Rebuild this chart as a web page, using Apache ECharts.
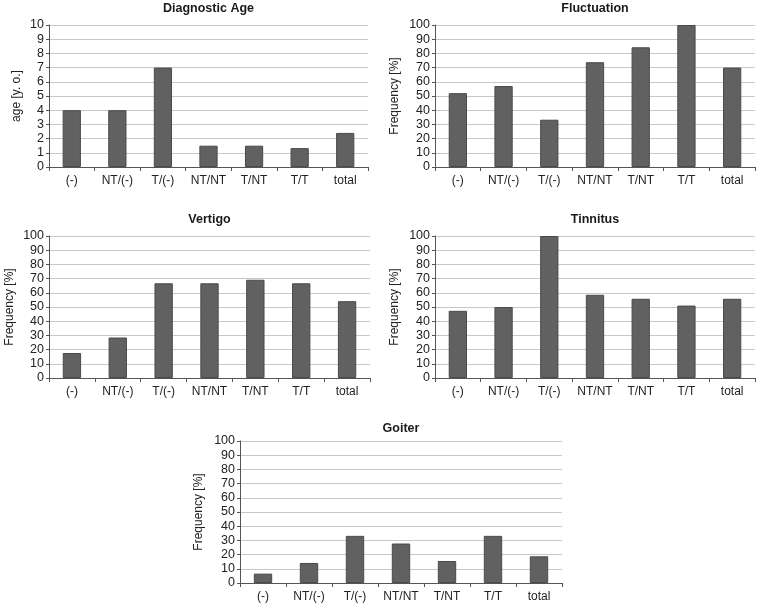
<!DOCTYPE html>
<html>
<head>
<meta charset="utf-8">
<script src="https://cdn.jsdelivr.net/npm/echarts@6/dist/echarts.min.js"></script>
<style>html,body{margin:0;padding:0;background:#fff}#c{width:758px;height:604px}</style>
</head>
<body>
<div id="c"></div>
<script>
const categories = ['(-)', 'NT/(-)', 'T/(-)', 'NT/NT', 'T/NT', 'T/T', 'total'];
const diagnosticAge = [4, 4, 7, 1.5, 1.5, 1.33, 2.4];
const fluctuation = [52, 57, 33.3, 73.8, 84.3, 100, 70];
const vertigo = [17.6, 28.5, 66.7, 66.7, 69.2, 66.7, 54.1];
const tinnitus = [47.3, 50, 100, 58.6, 55.8, 51, 55.8];
const goiter = [6.6, 14.1, 33.2, 27.8, 15.5, 33.2, 18.8];
const titles = ['Diagnostic Age', 'Fluctuation', 'Vertigo', 'Tinnitus', 'Goiter'];
const yNames = ['age [y. o.]', 'Frequency [%]', 'Frequency [%]', 'Frequency [%]', 'Frequency [%]'];
const yMax = [10, 100, 100, 100, 100];
const yStep = [1, 10, 10, 10, 10];
const panelData = [diagnosticAge, fluctuation, vertigo, tinnitus, goiter];

const grids = [
  {left: 49, top: 25, width: 319, height: 142, gap: 26, titleTop: 2},
  {left: 435, top: 25, width: 320, height: 142, gap: 34, titleTop: 2},
  {left: 49, top: 236, width: 321, height: 142, gap: 33, titleTop: 213},
  {left: 435, top: 236, width: 320, height: 142, gap: 34, titleTop: 213},
  {left: 240, top: 441, width: 322, height: 142, gap: 35, titleTop: 422}
];
const font = 'Liberation Sans, Arial, sans-serif';
const option = {
  animation: false,
  backgroundColor: '#fff',
  title: grids.map((g, i) => ({
    text: titles[i],
    left: g.left + g.width / 2,
    top: g.titleTop,
    padding: 0,
    textAlign: 'center',
    textStyle: {fontFamily: font, fontSize: 12.5, fontWeight: 'bold', color: '#1a1a1a'}
  })),
  grid: grids.map(g => ({left: g.left, top: g.top, width: g.width, height: g.height, containLabel: false})),
  xAxis: grids.map((g, i) => ({
    type: 'category', gridIndex: i, data: categories,
    axisLine: {lineStyle: {color: '#555', width: 1}},
    axisTick: {show: true, length: 4, lineStyle: {color: '#555'}},
    axisLabel: {fontFamily: font, fontSize: 12, color: '#222', margin: 8, interval: 0}
  })),
  yAxis: grids.map((g, i) => ({
    type: 'value', gridIndex: i, min: 0, max: yMax[i], interval: yStep[i],
    name: yNames[i], nameLocation: 'middle', nameGap: g.gap, nameRotate: 90,
    nameTextStyle: {fontFamily: font, fontSize: 12, color: '#222'},
    axisLine: {show: true, lineStyle: {color: '#555', width: 1}},
    axisTick: {show: true, length: 3, lineStyle: {color: '#555'}},
    axisLabel: {fontFamily: font, fontSize: 12.5, color: '#222', margin: 5},
    splitLine: {show: true, lineStyle: {color: '#c8c8c8', width: 1}}
  })),
  series: panelData.map((d, i) => ({
    type: 'bar', xAxisIndex: i, yAxisIndex: i, data: d,
    barWidth: '40%',
    itemStyle: {color: '#616161', borderColor: '#4a4a4a', borderWidth: 1}
  }))
};
const chart = echarts.init(document.getElementById('c'), null, {renderer: 'canvas'});
chart.setOption(option);
</script>
</body>
</html>
